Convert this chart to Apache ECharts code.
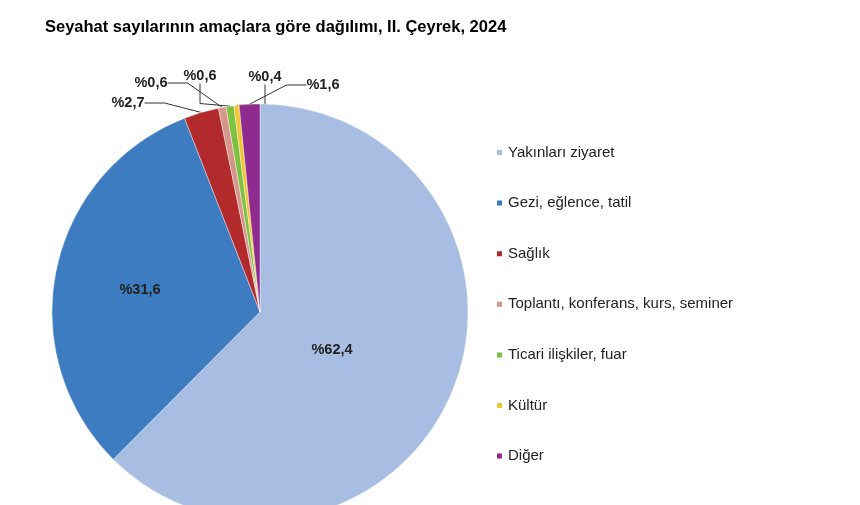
<!DOCTYPE html>
<html><head><meta charset="utf-8">
<script src="https://cdn.jsdelivr.net/npm/echarts@6/dist/echarts.min.js"></script>
<style>html,body{margin:0;padding:0;background:#fff}#c{width:860px;height:505px}</style>
</head><body><div id="c"></div>
<script>
const categories = ["Yakınları ziyaret", "Gezi, eğlence, tatil", "Sağlık", "Toplantı, konferans, kurs, seminer", "Ticari ilişkiler, fuar", "Kültür", "Diğer"];
const values = [62.4, 31.6, 2.7, 0.6, 0.6, 0.4, 1.6];
const labelsText = ["%62,4", "%31,6", "%2,7", "%0,6", "%0,6", "%0,4", "%1,6"];
const colors = ["#A7BDE1", "#3D7CC0", "#B32A2C", "#D7968B", "#7CC142", "#F3C532", "#8F2B8E"];

// label anchor positions (layout, not data)
const labelPos = [[332, 350], [140, 290], [128, 103], [151, 83], [200, 76], [265, 77], [323, 85]];

const chart = echarts.init(document.getElementById('c'), null, {renderer: 'canvas'});
const data = categories.map((c, i) => ({
  name: c,
  value: values[i],
  itemStyle: {color: colors[i]},
  label: {
    formatter: labelsText[i],
    position: i < 2 ? 'inside' : 'outside'
  },
  labelLine: {show: i >= 2}
}));
chart.setOption({
  animation: false,
  title: {
    text: 'Seyahat sayılarının amaçlara göre dağılımı, II. Çeyrek, 2024',
    left: 45, top: 19, padding: 0,
    textStyle: {fontFamily: 'Liberation Sans, Arial', fontWeight: 'bold', fontSize: 16.5, color: '#000'}
  },
  legend: {
    orient: 'vertical',
    left: 490, top: 140,
    itemWidth: 7, itemHeight: 7, itemGap: 35.6,
    icon: 'rect',
    textStyle: {fontFamily: 'Liberation Sans, Arial', fontSize: 15, color: '#222'},
    data: categories
  },
  series: [{
    type: 'pie',
    center: [260, 312],
    radius: 208,
    startAngle: 90,
    clockwise: true,
    avoidLabelOverlap: false,
    itemStyle: {borderColor: '#fff', borderWidth: 0.4},
    label: {
      fontFamily: 'Liberation Sans, Arial', fontWeight: 'bold', fontSize: 14.5, color: '#222'
    },
    labelLine: {lineStyle: {color: '#333', width: 1}, length: 15, length2: 20},
    labelLayout: function (p) {
      const pos = labelPos[p.dataIndex];
      return {x: pos[0], y: pos[1], align: 'center', verticalAlign: 'middle'};
    },
    data: data
  }]
});
</script></body></html>
